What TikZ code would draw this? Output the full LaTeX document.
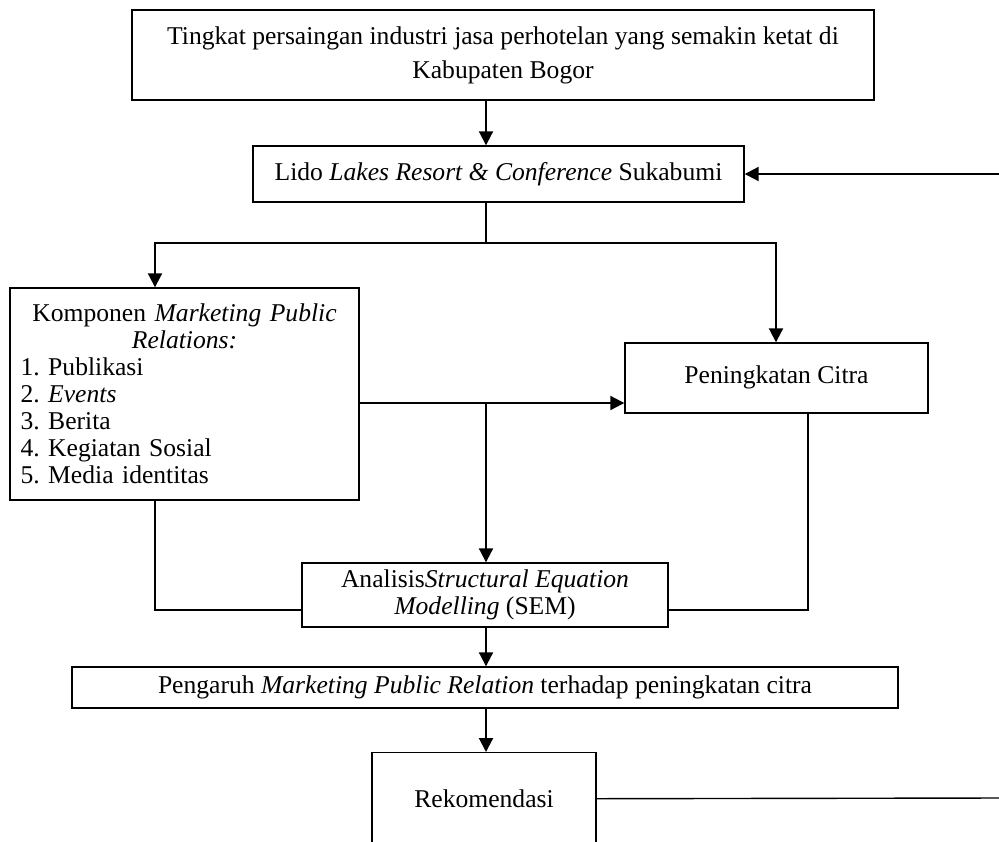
\documentclass[tikz,border=0pt]{standalone}
\usepackage{fontspec}
\setmainfont{Liberation Serif}
\usetikzlibrary{arrows.meta, calc, positioning}
\frenchspacing

\begin{document}
\begin{tikzpicture}[x=0.5pt, y=-0.5pt,
  font=\fontsize{12.8}{13.5}\selectfont,
  box/.style={draw, line width=0.7pt, inner sep=0pt, align=center},
  arr/.style={line width=1pt, -{Triangle[length=7pt,width=7pt]}},
  link/.style={line width=0.7pt}]
\useasboundingbox (0,0) rectangle (999,841);
\clip (0,0) rectangle (999,841);

\node[box, minimum width=371pt, minimum height=45pt, font=\fontsize{12.8}{17}\selectfont] (top) at (503,55)
  {Tingkat persaingan industri jasa perhotelan yang semakin ketat di\\ Kabupaten Bogor};
\node[box, minimum width=245.5pt, minimum height=28pt] (lido) at (498.5,174)
  {Lido \textit{Lakes Resort \& Conference} Sukabumi};
\node[box, minimum width=174.5pt, minimum height=106pt, text width=164pt, align=left] (kompo) at (184.5,394)
  {{\centering Komponen \textit{Marketing Public}\\ \textit{Relations:}\par}
   1. Publikasi\\ 2. \textit{Events}\\ 3. Berita\\ 4. Kegiatan Sosial\\ 5. Media identitas};
\node[box, minimum width=151.5pt, minimum height=35pt] (citra) at (776.5,378) {\raisebox{3pt}{Peningkatan Citra}};
\node[box, minimum width=183pt, minimum height=32pt] (sem) at (485,595)
  {Analisis\textit{Structural Equation}\\ \textit{Modelling} (SEM)};
\node[box, minimum width=413pt, minimum height=20.5pt] (pengaruh) at (485,687.5)
  {Pengaruh \textit{Marketing Public Relation} terhadap peningkatan citra};
\node[box, minimum width=112pt, minimum height=46pt, anchor=north] (reko) at (484,752) {Rekomendasi};

% columns and joints
\coordinate (colA) at (155,0);
\coordinate (colB) at (486,0);
\coordinate (colC) at (776,0);
\coordinate (colD) at (808,0);
\coordinate (split) at (486,243);
\coordinate (mid) at (486,403);
\coordinate (low) at (0,610);
\coordinate (feed) at (999,174);
\coordinate (exit) at (999,798);

\draw[arr] (top.south -| colB) -- (lido.north -| colB);
\draw[arr] (feed) -- (lido.east);
\draw[link] (lido.south -| colB) -- (split);
\draw[arr] (split) -| (kompo.north -| colA);
\draw[arr] (split) -| (citra.north -| colC);
\draw[arr] (kompo.east |- mid) -- (citra.west |- mid);
\draw[arr] (mid) -- (sem.north -| colB);
\draw[link] (kompo.south -| colA) |- (sem.west |- low);
\draw[link] (citra.south -| colD) |- (sem.east |- low);
\draw[arr] (sem.south -| colB) -- (pengaruh.north -| colB);
\draw[arr] (pengaruh.south -| colB) -- (reko.north -| colB);
\draw[link] (reko.east) -- (exit);
\end{tikzpicture}
\end{document}
